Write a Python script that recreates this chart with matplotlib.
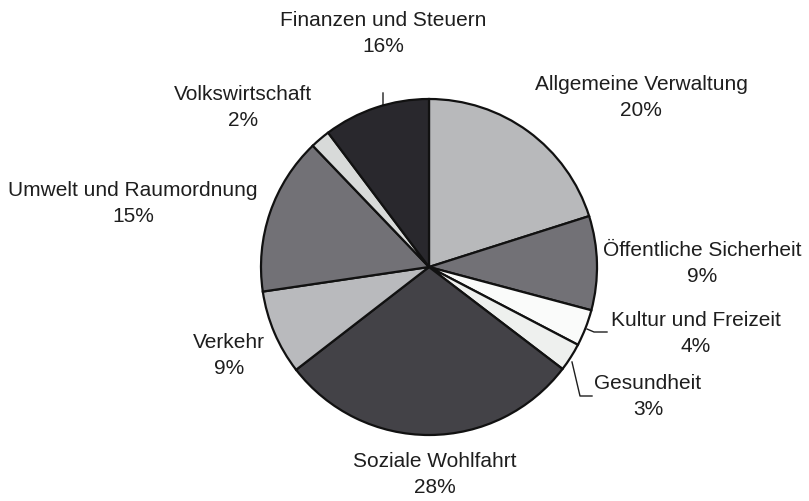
import matplotlib.pyplot as plt

categories = ["Allgemeine Verwaltung", "Öffentliche Sicherheit", "Kultur und Freizeit",
              "Gesundheit", "Soziale Wohlfahrt", "Verkehr", "Umwelt und Raumordnung",
              "Volkswirtschaft", "Finanzen und Steuern"]
# slice sizes as drawn in the picture
sizes = [20, 9, 3.5, 2.7, 29, 8.1, 15.1, 1.9, 10.2]
# percentages as printed in the labels
pct_labels = ["20%", "9%", "4%", "3%", "28%", "9%", "15%", "2%", "16%"]

colors = ["#b8b9bb", "#727176", "#fafbfa", "#eef0ee", "#434247",
          "#b9babd", "#727176", "#d8dad9", "#29282d"]

W, H = 809, 502
fig = plt.figure(figsize=(W / 100, H / 100), dpi=100)
ax = fig.add_axes([0, 0, 1, 1])

cx, cy, r = 429, H - 268, 168
ax.pie(sizes, colors=colors, startangle=90, counterclock=False,
       center=(cx, cy), radius=r, frame=True,
       wedgeprops=dict(edgecolor="#111111", linewidth=1.6))
ax.set_xlim(0, W)
ax.set_ylim(0, H)
ax.set_aspect("equal")
ax.axis("off")

# label positions in pixels (x, y of first line)
label_pos = [(641, 85), (702, 251), (696, 320), (648, 384), (435, 462),
             (229, 342), (133, 191), (243, 95), (383, 21)]

for name, pct, (x, y) in zip(categories, pct_labels, label_pos):
    ax.text(x, H - y, name, ha="center", va="center", fontsize=15,
            family="Liberation Sans", color="#1e1e1e")
    ax.text(x, H - y - 26, pct, ha="center", va="center", fontsize=15,
            family="Liberation Sans", color="#1e1e1e")

# leader lines
leaders = [
    [(383, 94), (383, 106), (378, 111)],
    [(587, 330), (594, 333), (607, 333)],
    [(572, 363), (580, 397), (592, 397)],
]
for pts in leaders:
    xs = [p[0] for p in pts]
    ys = [H - p[1] for p in pts]
    ax.plot(xs, ys, color="#1e1e1e", linewidth=1.0, zorder=0)

fig.savefig("out.png", dpi=100)
